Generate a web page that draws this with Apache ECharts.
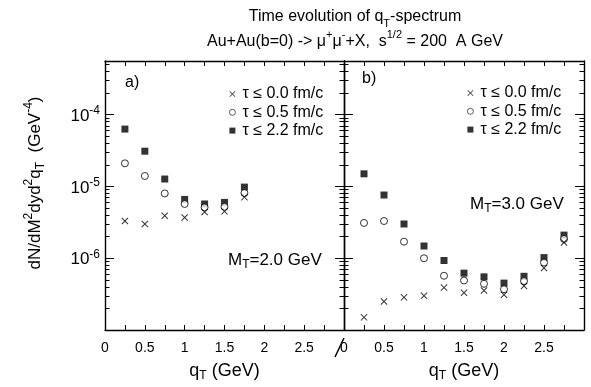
<!DOCTYPE html>
<html><head><meta charset="utf-8">
<script src="https://cdn.jsdelivr.net/npm/echarts@6/dist/echarts.min.js"></script>
<style>html,body{margin:0;padding:0;background:#fff}#c{width:591px;height:387px}</style>
</head><body><div id="c"></div>
<script>
// ---- data ----
const qT = [0.25, 0.5, 0.75, 1.0, 1.25, 1.5, 1.75, 2.0, 2.25, 2.5, 2.75];
const seriesNames = ['τ ≤ 0.0 fm/c', 'τ ≤ 0.5 fm/c', 'τ ≤ 2.2 fm/c'];
// panel a) M_T = 2.0 GeV
const aTau00 = [3.3e-6, 3.0e-6, 3.9e-6, 3.7e-6, 4.4e-6, 4.5e-6, 7.1e-6];
const aTau05 = [2.1e-5, 1.4e-5, 8.0e-6, 5.7e-6, 5.1e-6, 5.2e-6, 8.1e-6];
const aTau22 = [6.3e-5, 3.1e-5, 1.27e-5, 6.6e-6, 5.7e-6, 6.0e-6, 9.8e-6];
// panel b) M_T = 3.0 GeV
const bTau00 = [1.5e-7, 2.5e-7, 2.85e-7, 3.0e-7, 3.9e-7, 3.3e-7, 3.55e-7, 3.1e-7, 4.1e-7, 7.3e-7, 1.66e-6];
const bTau05 = [3.1e-6, 3.3e-6, 1.7e-6, 1.0e-6, 5.7e-7, 4.9e-7, 4.4e-7, 3.7e-7, 4.8e-7, 8.7e-7, 1.85e-6];
const bTau22 = [1.5e-5, 7.6e-6, 3.0e-6, 1.48e-6, 9.3e-7, 6.2e-7, 5.5e-7, 4.5e-7, 5.6e-7, 1.02e-6, 2.1e-6];
// ticks
const xTickValues = [0.25, 0.5, 0.75, 1, 1.25, 1.5, 1.75, 2, 2.25, 2.5, 2.75];
const xLabelValues = [0, 0.5, 1, 1.5, 2, 2.5];
const yLabelValues = [1e-6, 1e-5, 1e-4];
const yMajorTicks = [1e-6, 1e-5, 1e-4];
const yMinorTicks = [
  2e-7,3e-7,4e-7,5e-7,6e-7,7e-7,8e-7,9e-7,
  2e-6,3e-6,4e-6,5e-6,6e-6,7e-6,8e-6,9e-6,
  2e-5,3e-5,4e-5,5e-5,6e-5,7e-5,8e-5,9e-5,
  2e-4,3e-4,4e-4,5e-4
];
const yMin = 1e-7, yMax = 5.6e-4, xMin = 0, xMax = 3;

// ---- styling ----
const FONT = 'Liberation Sans';
function mkRich(fs, L, supLH, subLH) {
  const base = {fontFamily: FONT, color: '#000', fontWeight: 'normal'};
  const small = Math.round(fs * 0.68);
  return {
    n:   Object.assign({}, base, {fontSize: fs, lineHeight: L, verticalAlign: 'middle'}),
    sup: Object.assign({}, base, {fontSize: small, lineHeight: supLH, verticalAlign: 'top'}),
    sub: Object.assign({}, base, {fontSize: small, lineHeight: subLH, verticalAlign: 'bottom'})
  };
}
const lineStyle = {color: '#000', width: 1.4};

const grids = [
  {left: 105, top: 61, width: 239, height: 276},
  {left: 344, top: 61, width: 240, height: 276}
];

const xAxes = [], yAxes = [];
for (let g = 0; g < 2; g++) {
  ['bottom', 'top'].forEach(pos => {
    const ax = {
      type: 'value', gridIndex: g, position: pos, min: xMin, max: xMax,
      splitLine: {show: false},
      axisLine: {show: true, onZero: false, lineStyle: lineStyle},
      axisTick: {show: true, inside: true, length: 5, customValues: xTickValues, lineStyle: {color: '#000', width: 1}},
      axisLabel: {show: pos === 'bottom', customValues: xLabelValues, margin: 11,
        fontFamily: FONT, fontSize: 14, color: '#000', formatter: v => String(v)}
    };
    if (pos === 'bottom') {
      ax.name = '{n|q}{sub|T}{n| (GeV)}';
      ax.nameLocation = 'middle';
      ax.nameGap = 30;
      ax.nameTextStyle = {rich: mkRich(18, 22, 10, 15)};
    }
    xAxes.push(ax);
  });
  ['left', 'right'].forEach(pos => {
    [true, false].forEach(major => {
      const ax = {
        type: 'log', logBase: 10, gridIndex: g, position: pos, min: yMin, max: yMax,
        splitLine: {show: false}, minorTick: {show: false}, minorSplitLine: {show: false},
        axisLine: {show: major, onZero: false, lineStyle: lineStyle},
        axisTick: {show: true, inside: true, length: major ? 9 : 4.5,
          customValues: major ? yMajorTicks : yMinorTicks, lineStyle: {color: '#000', width: 1}},
        axisLabel: {show: major && pos === 'left' && g === 0, customValues: yLabelValues, margin: 5,
          formatter: v => '{b|10}{s|' + Math.round(Math.log10(v)) + '}',
          rich: {
            b: {fontFamily: FONT, fontSize: 17, color: '#000', lineHeight: 20, verticalAlign: 'bottom'},
            s: {fontFamily: FONT, fontSize: 12, color: '#000', lineHeight: 14, verticalAlign: 'top'}
          }}
      };
      if (g === 0 && pos === 'left' && major) {
        ax.name = '{n|dN/dM}{sup|2}{n|dyd}{sup|2}{n|q}{sub|T}{n|  (GeV}{sup|-4}{n|)}';
        ax.nameLocation = 'middle';
        ax.nameRotate = 90;
        ax.nameGap = 58;
        ax.nameTextStyle = {rich: mkRich(17, 24, 10, 15), padding: [0, 0, 0, 25]};
      }
      yAxes.push(ax);
    });
  });
}

const crossPath = 'path://M1,0L5,4L9,0L10,1L6,5L10,9L9,10L5,6L1,10L0,9L4,5L0,1Z';
const kinds = [
  {symbol: crossPath, itemStyle: {color: '#000'}, z: 4},
  {symbol: 'circle', itemStyle: {color: '#fff', borderColor: '#000', borderWidth: 1}, z: 3},
  {symbol: 'rect', itemStyle: {color: '#000'}, z: 2}
];
const panelData = [[aTau00, aTau05, aTau22], [bTau00, bTau05, bTau22]];
const series = [];
panelData.forEach((sets, g) => {
  sets.forEach((vals, k) => {
    series.push({
      type: 'scatter', name: seriesNames[k],
      xAxisIndex: 2 * g, yAxisIndex: 4 * g,
      symbol: kinds[k].symbol, symbolSize: 7,
      itemStyle: kinds[k].itemStyle, z: kinds[k].z,
      emphasis: {disabled: true},
      data: vals.map((v, i) => [qT[i], v])
    });
  });
});

function legendAt(left, top) {
  return {
    orient: 'vertical', left: left, top: top, padding: 0,
    data: [
      {name: seriesNames[0]},
      {name: seriesNames[1], itemStyle: {borderWidth: 0.8}},
      {name: seriesNames[2]}
    ],
    itemWidth: 6, itemHeight: 6, itemGap: 0.3,
    selectedMode: false,
    textStyle: {fontFamily: FONT, fontSize: 16, color: '#000', lineHeight: 18, padding: [0, 0, 0, 2]}
  };
}

const txt = (text, left, top, rich, align) => ({
  text: text, left: left, top: top, padding: 0, textAlign: align || 'left',
  textStyle: {rich: rich, fontWeight: 'normal', fontFamily: FONT}
});

const option = {
  animation: false,
  backgroundColor: '#fff',
  grid: grids,
  xAxis: xAxes,
  yAxis: yAxes,
  legend: [legendAt(229, 85), legendAt(467, 84)],
  title: [
    txt('{n|Time evolution of q}{sub|T}{n|-spectrum}\n{n|Au+Au(b=0) -> μ}{sup|+}{n|μ}{sup|-}{n|+X,  s}{sup|1/2}{n| = 200  A GeV}',
        355, 4.5, mkRich(16, 25, 10, 16), 'center'),
    txt('{n|a)}', 125, 73, mkRich(16, 20, 10, 14)),
    txt('{n|b)}', 362, 69, mkRich(16, 20, 10, 14)),
    txt('{n|M}{sub|T}{n|=2.0 GeV}', 228, 249, mkRich(17, 22, 10, 15)),
    txt('{n|M}{sub|T}{n|=3.0 GeV}', 470, 193, mkRich(17, 22, 10, 15))
  ],
  graphic: [
    {type: 'line', shape: {x1: 344, y1: 338, x2: 335, y2: 357}, style: {stroke: '#000', lineWidth: 1.5}}
  ],
  series: series
};

const chart = echarts.init(document.getElementById('c'), null, {renderer: 'canvas'});
chart.setOption(option);
</script>
</body></html>
